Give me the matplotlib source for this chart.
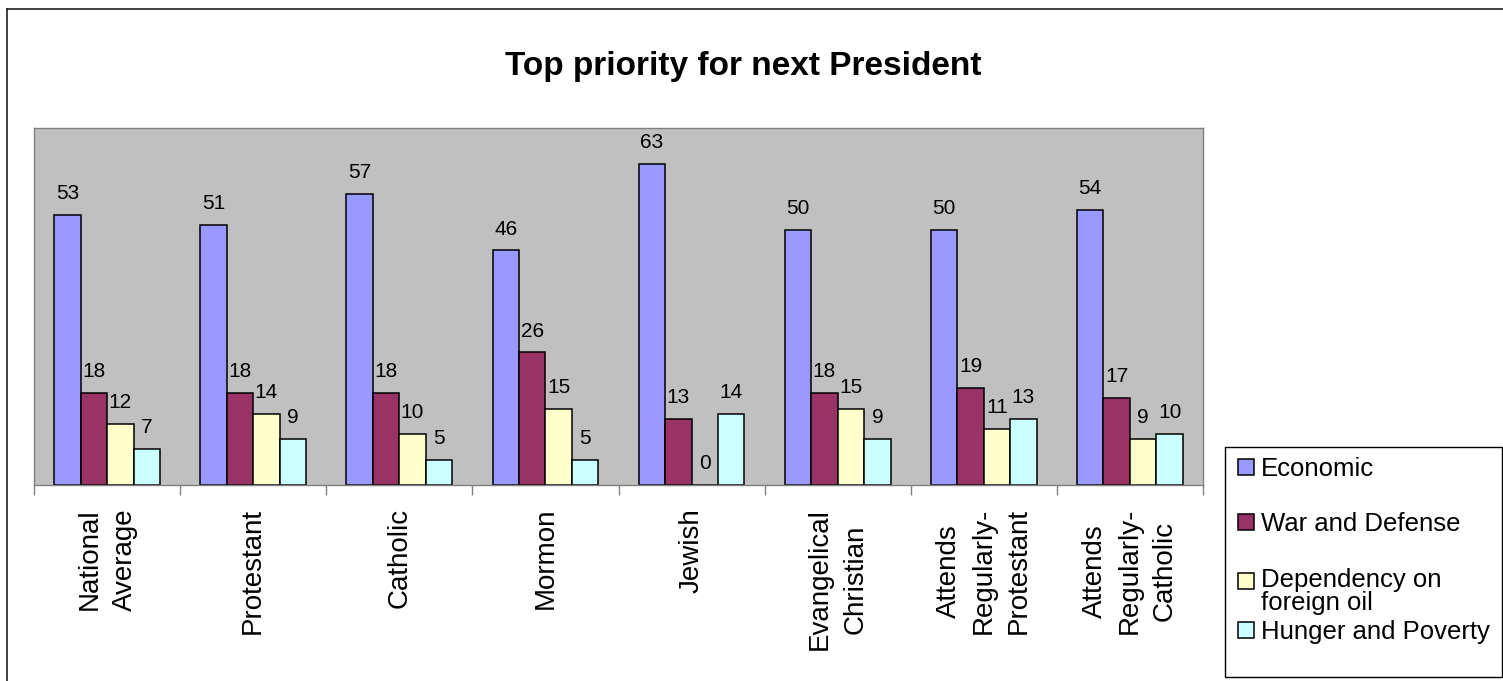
import matplotlib
matplotlib.use("Agg")
import matplotlib.pyplot as plt
import numpy as np
from matplotlib.lines import Line2D
from matplotlib.patches import Rectangle

categories = ["National\nAverage", "Protestant", "Catholic", "Mormon", "Jewish",
              "Evangelical\nChristian", "Attends\nRegularly-\nProtestant",
              "Attends\nRegularly-\nCatholic"]
economic = [53, 51, 57, 46, 63, 50, 50, 54]
war_defense = [18, 18, 18, 26, 13, 18, 19, 17]
foreign_oil = [12, 14, 10, 15, 0, 15, 11, 9]
hunger_poverty = [7, 9, 5, 5, 14, 9, 13, 10]
series_names = ["Economic", "War and Defense", "Dependency on\nforeign oil", "Hunger and Poverty"]
colors = ["#9999FF", "#993366", "#FFFFCC", "#CCFFFF"]

W, H = 1503, 681
plt.rcParams['font.family'] = ['Liberation Sans', 'DejaVu Sans']
fig = plt.figure(figsize=(W / 100, H / 100), dpi=100)


def fx(px):
    return px / W


def fy(py):
    return 1 - py / H


# plot area
ax = fig.add_axes([fx(34), fy(485), fx(1203) - fx(34), fy(128) - fy(485)])
ax.set_facecolor('#C0C0C0')

x = np.arange(len(categories))
w = 0.181
all_series = [economic, war_defense, foreign_oil, hunger_poverty]
for i, (vals, c) in enumerate(zip(all_series, colors)):
    bars = ax.bar(x + (i - 1.5) * w, vals, w, color=c, edgecolor='black', linewidth=1.1)
    ax.bar_label(bars, padding=8.5, fontsize=15)

ax.set_xlim(-0.5, len(categories) - 0.5)
ax.set_ylim(0, 70)
ax.tick_params(axis='y', left=False, labelleft=False)
for s in ax.spines.values():
    s.set_color('#808080')
    s.set_linewidth(1)

ax.set_xticks(x)
ax.set_xticklabels(categories, rotation=90, fontsize=20, linespacing=1.45)
ax.tick_params(axis='x', which='major', length=0, pad=16.5)
ax.set_xticks(np.arange(-0.5, len(categories), 1), minor=True)
ax.tick_params(axis='x', which='minor', length=7.2, color='#808080', width=1)

# title
fig.text(fx(743), fy(75), "Top priority for next President", fontsize=24,
         fontweight='bold', ha='center', va='baseline')

# legend (drawn by hand to mimic the Excel layout)
fig.add_artist(Rectangle((fx(1225), fy(677)), fx(1502) - fx(1225), fy(447) - fy(677),
                         transform=fig.transFigure, fill=False, edgecolor='black', lw=1))
marker_bottoms = [475, 530, 589, 638]
text_tops = [457, 512, 568, 620]
for name, c, b, t in zip(series_names, colors, marker_bottoms, text_tops):
    fig.add_artist(Rectangle((fx(1238), fy(b)), 16 / W, 16 / H, transform=fig.transFigure,
                             facecolor=c, edgecolor='black', lw=1.1))
    fig.text(fx(1261), fy(t), name, fontsize=18.5, ha='left', va='top',
             linespacing=0.94)

# chart border
fig.add_artist(Line2D([fx(7), fx(7)], [0, fy(9)], color='#202020', lw=1.2))
fig.add_artist(Line2D([fx(7), 1], [fy(9), fy(9)], color='#202020', lw=1.2))

fig.savefig("out.png", dpi=100)
